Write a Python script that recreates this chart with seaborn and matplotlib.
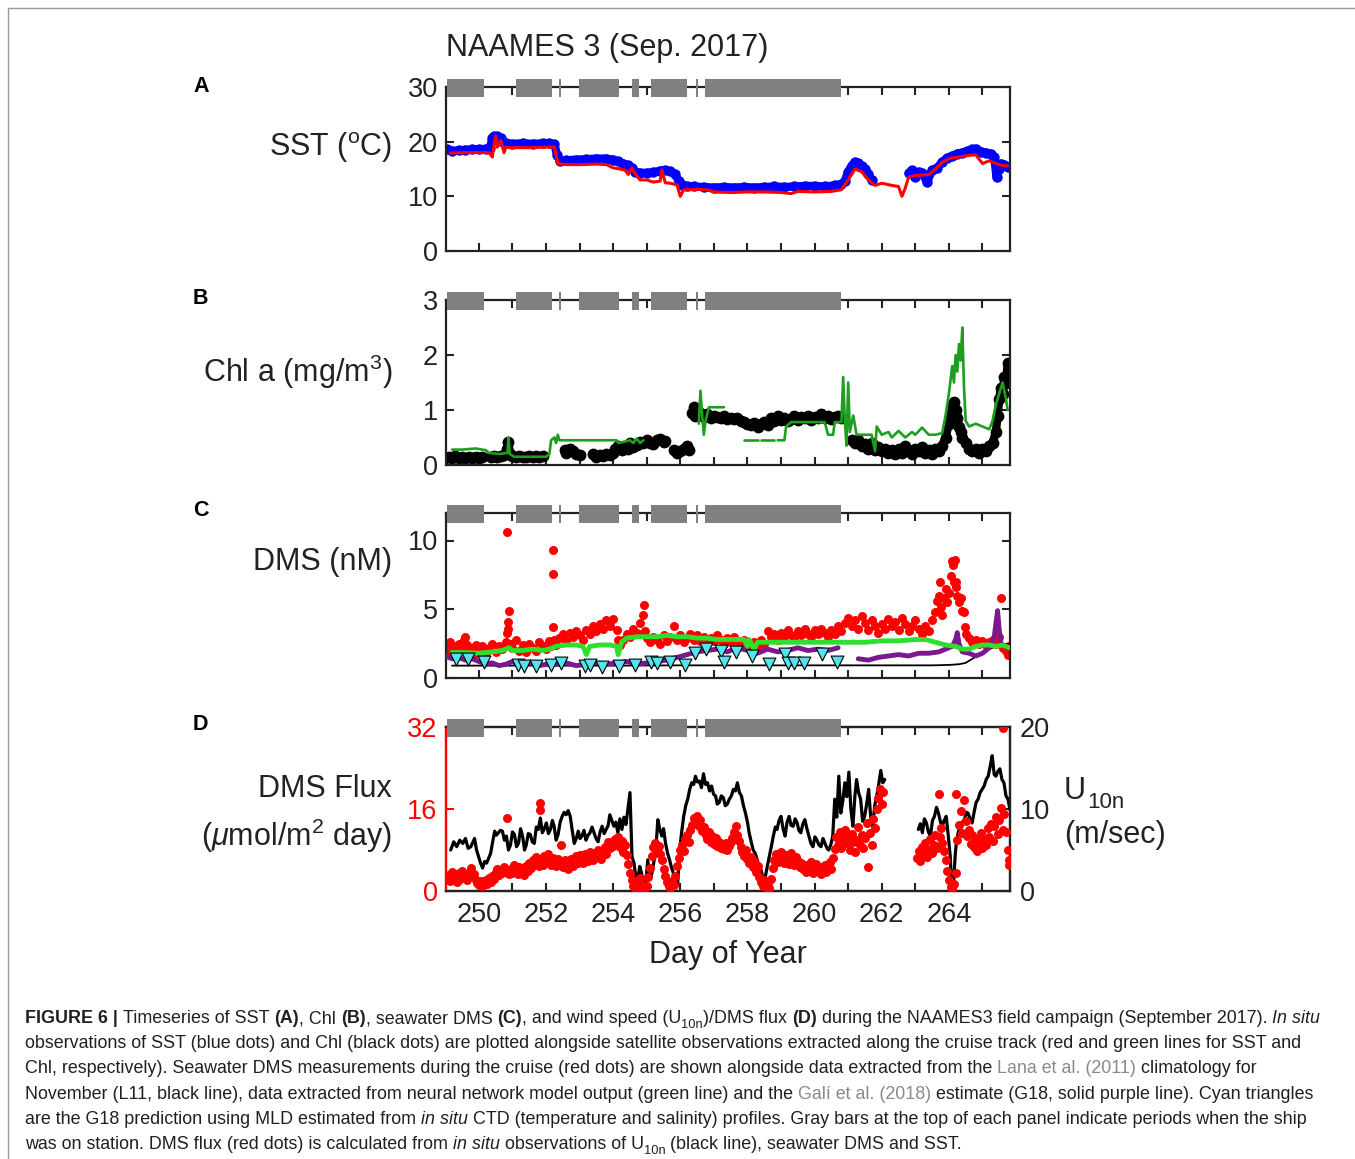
import numpy as np
import pandas as pd
import matplotlib
matplotlib.use("Agg")
import matplotlib.pyplot as plt
from matplotlib.lines import Line2D
import seaborn as sns

NA = np.nan

# ---------------- data (day of year, value) ----------------
STATION_START = [249.05, 251.10, 252.40, 252.98, 254.56, 255.12, 256.48, 256.73]
STATION_END = [250.15, 252.17, 252.46, 254.17, 254.77, 256.20, 256.54, 260.78]

SST_INSITU = [(249.05, 18.6), (249.2, 18.3), (249.4, 18.4), (249.6, 18.5), (249.8, 18.6), (250.0, 18.6),
              (250.2, 18.7), (250.33, 18.9), (250.4, 20.6), (250.45, 21.0), (250.55, 21.0), (250.65, 20.7),
              (250.72, 20.0), (250.8, 19.7), (251.0, 19.6), (251.3, 19.7), (251.6, 19.6), (251.9, 19.7),
              (252.1, 19.7), (252.25, 19.5), (252.33, 17.5), (252.42, 16.4), (252.6, 16.6), (252.9, 16.7),
              (253.2, 16.8), (253.5, 16.9), (253.8, 16.9), (254.0, 16.7), (254.15, 16.4), (254.3, 16.0),
              (254.45, 15.7), (254.55, 15.1), (254.65, 14.5), (254.8, 14.3), (255.0, 14.3), (255.2, 14.4),
              (255.4, 14.7), (255.55, 14.8), (255.7, 14.6), (255.85, 14.0), (255.95, 12.8), (256.05, 12.1),
              (256.2, 11.9), (256.4, 11.8), (256.7, 11.7), (257.0, 11.6), (257.3, 11.7), (257.6, 11.6),
              (257.9, 11.7), (258.2, 11.6), (258.5, 11.7), (258.8, 11.8), (259.1, 11.7), (259.4, 11.8),
              (259.7, 11.9), (260.0, 11.9), (260.3, 11.8), (260.6, 12.0), (260.8, 12.2), (260.9, 12.8),
              (261.0, 14.5), (261.1, 15.6), (261.2, 16.3), (261.3, 16.1), (261.4, 15.6), (261.5, 15.0),
              (261.6, 14.0), (261.7, 13.0), (262.2, NA), (262.8, 14.2), (262.9, 14.8), (263.0, 13.6),
              (263.1, 14.5), (263.2, 14.3), (263.35, 12.6), (263.5, 14.8), (263.65, 15.2), (263.8, 16.3),
              (263.95, 17.0), (264.1, 17.4), (264.25, 17.8), (264.4, 18.0), (264.55, 18.3), (264.7, 18.6),
              (264.8, 18.7), (264.95, 18.2), (265.1, 18.0), (265.25, 17.8), (265.35, 17.2), (265.42, 13.5),
              (265.48, 15.0), (265.55, 16.0), (265.65, 15.8), (265.75, 15.4)]

SST_SAT = [(249.15, 17.9), (249.5, 18.0), (250.0, 18.0), (250.3, 18.0), (250.4, 17.2), (250.45, 19.5),
           (250.5, 21.0), (250.55, 19.0), (250.65, 20.2), (250.75, 18.0), (250.8, 19.0), (251.0, 18.9),
           (251.5, 18.9), (252.0, 19.0), (252.25, 19.0), (252.35, 16.0), (252.6, 15.8), (253.0, 15.8),
           (253.5, 15.9), (253.8, 15.8), (254.0, 15.2), (254.2, 15.0), (254.35, 14.8), (254.45, 14.0),
           (254.55, 15.2), (254.65, 14.2), (254.8, 13.0), (255.0, 13.0), (255.2, 12.6), (255.4, 12.8),
           (255.45, 14.8), (255.55, 12.5), (255.7, 12.4), (255.9, 12.1), (256.0, 10.0), (256.1, 11.2),
           (256.3, 11.2), (256.5, 11.3), (256.8, 11.2), (257.0, 10.8), (257.5, 10.7), (258.0, 10.8),
           (258.5, 10.8), (259.0, 10.7), (259.3, 10.5), (259.5, 10.9), (260.0, 10.8), (260.5, 10.9),
           (260.8, 11.2), (261.0, 13.0), (261.2, 15.0), (261.4, 14.5), (261.6, 13.0), (261.8, 12.0),
           (262.0, 12.4), (262.3, 12.0), (262.5, 11.8), (262.6, 10.0), (262.7, 11.5), (262.8, 13.5),
           (263.0, 13.8), (263.2, 13.9), (263.4, 14.0), (263.6, 15.0), (263.8, 16.2), (264.0, 16.9),
           (264.3, 17.2), (264.6, 17.5), (264.8, 17.6), (265.0, 16.0), (265.2, 16.5), (265.4, 16.0),
           (265.6, 15.6), (265.75, 15.6)]

CHL_INSITU = [(249.0, 0.12), (249.1, 0.15), (249.2, 0.12), (249.3, 0.16), (249.4, 0.13), (249.5, 0.15),
              (249.6, 0.12), (249.7, 0.14), (249.8, 0.13), (249.9, 0.15), (250.0, 0.12), (250.1, 0.14),
              (250.2, NA), (250.35, 0.15), (250.45, 0.17), (250.55, 0.14), (250.65, 0.16), (250.75, 0.18),
              (250.85, 0.3), (250.88, 0.42), (250.92, 0.2), (251.0, 0.16), (251.1, 0.15), (251.2, 0.17),
              (251.3, 0.15), (251.4, 0.14), (251.5, 0.16), (251.6, 0.15), (251.7, 0.16), (251.8, 0.15),
              (251.9, 0.17), (252.2, NA), (252.55, 0.28), (252.6, 0.22), (252.7, 0.3), (252.8, 0.25),
              (252.9, 0.2), (253.0, 0.18), (253.2, NA), (253.4, 0.2), (253.5, 0.15), (253.6, 0.18),
              (253.7, 0.16), (253.8, 0.2), (253.9, 0.18), (254.0, 0.22), (254.05, 0.3), (254.15, 0.35),
              (254.25, 0.28), (254.35, 0.33), (254.45, 0.3), (254.5, 0.4), (254.6, 0.33), (254.7, 0.36),
              (254.8, 0.42), (254.9, 0.4), (255.0, 0.45), (255.1, 0.4), (255.2, 0.38), (255.3, 0.45),
              (255.4, 0.48), (255.5, 0.42), (255.55, 0.44), (255.7, NA), (255.8, 0.28), (255.9, 0.22),
              (256.0, 0.25), (256.1, 0.3), (256.2, 0.35), (256.25, 0.28), (256.3, NA), (256.35, 0.95),
              (256.4, 1.05), (256.45, 0.9), (256.5, 1.0), (256.6, 0.95), (256.7, 0.88), (256.8, 0.92),
              (256.9, 0.85), (257.0, 0.9), (257.1, 0.87), (257.2, 0.86), (257.3, 0.9), (257.4, 0.84),
              (257.5, 0.86), (257.6, 0.83), (257.7, 0.85), (257.8, 0.8), (257.9, 0.78), (258.0, 0.74),
              (258.1, 0.72), (258.2, 0.76), (258.3, 0.7), (258.4, 0.74), (258.5, 0.78), (258.6, 0.72),
              (258.7, 0.85), (258.8, 0.8), (258.9, 0.9), (259.0, 0.82), (259.1, 0.86), (259.2, 0.8),
              (259.3, 0.84), (259.4, 0.9), (259.5, 0.82), (259.6, 0.88), (259.7, 0.85), (259.8, 0.9),
              (259.9, 0.82), (260.0, 0.88), (260.1, 0.85), (260.2, 0.92), (260.3, 0.86), (260.4, 0.9),
              (260.5, 0.84), (260.6, 0.88), (260.7, 0.9), (260.8, 0.86), (260.95, NA), (261.1, 0.45),
              (261.2, 0.4), (261.3, 0.45), (261.4, 0.35), (261.5, 0.38), (261.6, 0.3), (261.7, 0.4),
              (261.8, 0.28), (261.9, 0.32), (262.0, 0.25), (262.1, 0.3), (262.2, 0.22), (262.3, 0.28),
              (262.4, 0.2), (262.5, 0.3), (262.6, 0.22), (262.7, 0.35), (262.8, 0.25), (262.9, 0.2),
              (263.0, 0.3), (263.1, 0.25), (263.2, 0.32), (263.3, 0.22), (263.4, 0.28), (263.5, 0.2),
              (263.6, 0.3), (263.7, 0.25), (263.8, 0.35), (263.9, 0.5), (264.0, 0.75), (264.05, 0.95),
              (264.1, 1.1), (264.15, 1.15), (264.2, 1.0), (264.25, 0.85), (264.3, 0.7), (264.35, 0.6),
              (264.4, 0.5), (264.5, 0.4), (264.6, 0.3), (264.7, 0.25), (264.8, 0.3), (264.9, 0.22),
              (265.0, 0.3), (265.1, 0.25), (265.2, 0.35), (265.3, 0.4), (265.4, 0.6), (265.45, 0.9),
              (265.5, 1.2), (265.55, 1.4), (265.6, 1.3), (265.65, 1.6), (265.7, 1.5), (265.75, 1.85),
              (265.8, 1.7)]

CHL_SAT = [(249.2, 0.28), (249.5, 0.28), (249.9, 0.3), (250.2, 0.27), (250.3, 0.22), (250.6, 0.2),
           (250.85, 0.22), (250.88, 0.5), (250.92, 0.2), (251.05, 0.15), (251.5, 0.15), (252.0, 0.15),
           (252.1, 0.2), (252.15, 0.45), (252.25, 0.5), (252.3, 0.4), (252.35, 0.55), (252.4, 0.45),
           (252.6, 0.45), (253.0, 0.45), (253.5, 0.45), (254.1, 0.45), (254.15, 0.4), (254.3, 0.42),
           (254.5, 0.45), (254.6, 0.4), (254.7, 0.48), (254.8, 0.4), (254.9, 0.45), (255.5, NA),
           (256.55, 0.75), (256.6, 1.35), (256.65, 0.9), (256.7, 0.55), (256.75, 0.8), (256.85, 1.05),
           (257.0, 1.05), (257.3, 1.05), (257.6, NA), (257.9, 0.45), (258.3, 0.45), (258.35, NA),
           (258.4, 0.45), (258.8, 0.45), (258.85, NA), (258.9, 0.45), (259.1, 0.45), (259.15, 0.7),
           (259.3, 0.78), (259.8, 0.78), (260.3, 0.78), (260.4, 0.55), (260.55, 0.55), (260.6, 0.78),
           (260.8, 0.78), (260.85, 1.6), (260.9, 0.8), (260.95, 0.35), (261.0, 1.5), (261.05, 0.6),
           (261.15, 0.9), (261.25, 0.55), (261.35, 0.55), (261.7, 0.55), (261.8, 0.25), (261.85, 0.7),
           (262.0, 0.55), (262.2, 0.6), (262.3, 0.5), (262.5, 0.62), (262.7, 0.5), (262.9, 0.6),
           (263.0, 0.55), (263.2, 0.68), (263.4, 0.55), (263.6, 0.55), (263.8, 0.58), (263.9, 0.9),
           (264.0, 1.3), (264.1, 1.8), (264.15, 1.5), (264.2, 2.0), (264.25, 1.7), (264.3, 2.2),
           (264.35, 1.9), (264.4, 2.5), (264.45, 1.4), (264.5, 0.8), (264.6, 0.7), (264.8, 0.75),
           (265.0, 0.7), (265.2, 0.65), (265.3, 0.8), (265.4, 1.1), (265.5, 1.3), (265.6, 1.5),
           (265.7, 1.2), (265.75, 1.0)]

DMS_INSITU = [(249.05, 2.2), (249.1, 1.8), (249.15, 2.6), (249.2, 2.0), (249.3, 2.3), (249.35, 1.9),
              (249.4, 2.5), (249.5, 2.1), (249.55, 2.8), (249.6, 3.0), (249.65, 2.4), (249.7, 2.0),
              (249.8, 2.2), (249.85, 1.7), (249.9, 2.4), (250.0, 2.0), (250.1, 2.3), (250.2, 1.8),
              (250.3, 2.2), (250.4, 2.5), (250.5, 1.9), (250.6, 2.3), (250.7, 2.1), (250.8, 2.6),
              (250.85, 3.3), (250.87, 3.6), (250.88, 4.1), (250.9, 4.9), (250.84, 10.6), (250.95, 2.5),
              (251.0, 2.2), (251.1, 2.8), (251.2, 2.0), (251.3, 2.4), (251.4, 1.9), (251.5, 2.5),
              (251.6, 2.2), (251.7, 2.0), (251.8, 2.6), (251.9, 2.3), (252.0, 2.1), (252.1, 2.7),
              (252.15, 2.3), (252.2, 9.3), (252.2, 7.6), (252.2, 3.7), (252.25, 2.8), (252.3, 2.4),
              (252.4, 2.9), (252.5, 3.2), (252.6, 2.7), (252.7, 3.3), (252.8, 3.0), (252.9, 3.4),
              (253.0, 3.1), (253.1, 2.8), (253.2, 3.5), (253.3, 3.2), (253.4, 3.8), (253.5, 3.4),
              (253.6, 3.9), (253.7, 3.6), (253.8, 4.2), (253.9, 3.8), (254.0, 4.3), (254.1, 3.5),
              (254.15, 2.8), (254.2, 2.4), (254.3, 2.8), (254.4, 3.2), (254.5, 3.0), (254.6, 3.6),
              (254.7, 3.3), (254.8, 4.0), (254.9, 4.6), (254.92, 5.3), (254.95, 3.4), (255.0, 2.9),
              (255.1, 2.6), (255.2, 3.0), (255.3, 2.8), (255.4, 2.5), (255.5, 3.1), (255.6, 2.7),
              (255.7, 3.0), (255.8, 3.8), (255.9, 2.8), (256.0, 3.1), (256.1, 2.6), (256.2, 2.9),
              (256.3, 3.2), (256.4, 2.8), (256.5, 3.1), (256.6, 2.7), (256.7, 3.0), (256.8, 2.6),
              (256.9, 2.9), (257.0, 2.7), (257.1, 3.1), (257.2, 2.8), (257.3, 2.5), (257.4, 2.9),
              (257.5, 2.6), (257.6, 3.0), (257.7, 2.7), (257.8, 2.4), (257.9, 2.8), (258.0, 2.5),
              (258.1, 2.3), (258.2, 2.6), (258.3, 2.3), (258.4, 2.8), (258.5, 2.5), (258.6, 3.4),
              (258.7, 3.0), (258.8, 3.2), (258.9, 2.8), (259.0, 3.3), (259.1, 3.0), (259.2, 3.5),
              (259.3, 3.1), (259.4, 2.9), (259.5, 3.4), (259.6, 3.1), (259.7, 3.6), (259.8, 3.2),
              (259.9, 3.0), (260.0, 3.5), (260.1, 3.2), (260.2, 3.6), (260.3, 3.3), (260.4, 3.0),
              (260.5, 3.5), (260.6, 3.2), (260.7, 3.8), (260.8, 3.4), (260.9, 4.0), (261.0, 4.4),
              (261.1, 3.8), (261.2, 4.2), (261.3, 3.6), (261.4, 4.5), (261.5, 4.0), (261.6, 3.5),
              (261.7, 4.2), (261.8, 3.8), (261.9, 3.3), (262.0, 3.9), (262.1, 3.6), (262.2, 4.3),
              (262.3, 3.8), (262.4, 4.1), (262.5, 3.5), (262.6, 4.4), (262.7, 3.9), (262.8, 3.4),
              (262.9, 3.8), (263.0, 4.2), (263.1, 3.6), (263.2, 3.2), (263.3, 3.8), (263.4, 3.4),
              (263.5, 4.2), (263.6, 4.8), (263.65, 5.6), (263.7, 6.0), (263.72, 7.0), (263.75, 5.2),
              (263.8, 4.6), (263.85, 5.8), (263.9, 6.5), (263.95, 5.5), (264.0, 6.2), (264.05, 7.4),
              (264.1, 8.5), (264.12, 8.2), (264.15, 7.0), (264.18, 8.6), (264.2, 6.6), (264.22, 7.0),
              (264.25, 6.0), (264.3, 5.5), (264.35, 5.8), (264.38, 4.9), (264.45, 4.8), (264.48, 3.7),
              (264.5, 3.2), (264.6, 2.9), (264.7, 2.6), (264.8, 2.8), (264.9, 2.5), (265.0, 2.7),
              (265.1, 2.4), (265.2, 2.6), (265.3, 2.8), (265.4, 2.5), (265.5, 3.0), (265.55, 5.8),
              (265.6, 2.2), (265.7, 2.0), (265.75, 1.7), (265.8, 2.3)]

DMS_NN = [(249.2, 1.85), (249.6, 1.85), (250.0, 1.8), (250.4, 1.9), (250.7, 2.0), (250.9, 2.2),
          (251.0, 2.0), (251.3, 2.0), (251.6, 2.1), (251.9, 2.0), (252.1, 2.1), (252.3, 2.3),
          (252.6, 2.4), (252.9, 2.4), (253.1, 2.3), (253.2, 1.7), (253.3, 2.3), (253.6, 2.4),
          (253.9, 2.4), (254.1, 2.3), (254.15, 1.7), (254.25, 2.6), (254.4, 2.9), (254.7, 3.0),
          (255.0, 3.0), (255.3, 3.0), (255.6, 3.1), (255.9, 3.0), (256.2, 3.0), (256.5, 2.9),
          (256.8, 2.9), (257.1, 2.8), (257.4, 2.8), (257.7, 2.8), (257.9, 2.8), (258.0, 2.3),
          (258.05, 2.8), (258.2, 2.1), (258.3, 2.6), (258.6, 2.6), (259.0, 2.6), (259.5, 2.6),
          (260.0, 2.6), (260.5, 2.6), (261.0, 2.6), (261.5, 2.6), (262.0, 2.7), (262.5, 2.7),
          (263.0, 2.8), (263.3, 2.8), (263.6, 2.6), (263.9, 2.4), (264.2, 2.3), (264.4, 2.1),
          (264.6, 2.1), (264.8, 2.3), (265.0, 2.4), (265.2, 2.4), (265.4, 2.3), (265.6, 2.4),
          (265.8, 2.2)]

DMS_G18 = [(249.0, 1.6), (249.2, 1.4), (249.4, 1.5), (249.6, 1.3), (249.8, 1.4), (250.0, 1.2),
           (250.2, 1.0), (250.4, 1.1), (250.6, 0.9), (250.8, 1.0), (251.0, 1.2), (251.2, 0.9),
           (251.4, 1.0), (251.6, 1.1), (251.8, 0.9), (252.0, 1.0), (252.3, 1.0), (252.6, 1.1),
           (252.9, 0.9), (253.2, 1.0), (253.5, 1.1), (253.8, 1.0), (254.1, 1.1), (254.4, 1.2),
           (254.7, 1.0), (255.0, 1.1), (255.3, 1.2), (255.6, 1.3), (255.9, 1.5), (256.2, 1.7),
           (256.5, 1.9), (256.8, 2.0), (257.1, 2.1), (257.4, 1.9), (257.7, 2.2), (258.0, 2.0),
           (258.3, 1.8), (258.6, 2.1), (258.9, 1.9), (259.2, 2.0), (259.5, 2.2), (259.8, 2.0),
           (260.1, 2.1), (260.4, 2.0), (260.7, 2.2), (260.85, NA), (261.3, 1.4), (261.6, 1.3),
           (261.9, 1.5), (262.2, 1.6), (262.5, 1.7), (262.8, 1.6), (263.1, 1.8), (263.4, 1.8),
           (263.7, 1.9), (263.9, 2.1), (264.1, 2.3), (264.2, 2.8), (264.25, 3.3), (264.3, 2.5),
           (264.4, 1.9), (264.6, 1.8), (264.8, 1.6), (265.0, 1.8), (265.2, 2.2), (265.35, 3.0),
           (265.45, 4.9), (265.5, 3.5), (265.55, 2.5), (265.7, 2.3), (265.8, 2.2)]

DMS_L11 = [(249.2, 0.9), (250.0, 0.9), (252.0, 0.9), (254.0, 0.9), (256.0, 0.92), (258.0, 0.92),
           (260.0, 0.92), (262.0, 0.92), (263.5, 0.92), (264.0, 0.95), (264.3, 1.0), (264.5, 1.1),
           (264.7, 1.4), (264.9, 1.7), (265.1, 2.0), (265.3, 2.2), (265.5, 2.4), (265.8, 2.5)]

DMS_G18_CTD = [(249.31, 1.40), (249.69, 1.35), (250.16, 1.15), (251.15, 0.91), (251.34, 0.86),
               (251.69, 0.86), (252.14, 0.98), (252.44, 1.11), (253.15, 0.86), (253.31, 0.91),
               (253.67, 0.81), (254.16, 0.86), (254.65, 0.98), (255.13, 1.15), (255.32, 1.11),
               (255.68, 1.15), (256.15, 0.91), (256.44, 1.84), (256.75, 2.14), (257.21, 1.99),
               (257.30, 1.15), (257.65, 1.89), (258.14, 1.60), (258.64, 1.03), (259.13, 1.72),
               (259.21, 1.06), (259.39, 1.06), (259.68, 1.06), (260.21, 1.77), (260.67, 1.15)]

WIND = [(249.16, 5.0), (249.25, 6.0), (249.34, 5.4), (249.43, 6.2), (249.52, 5.8), (249.6, 6.4),
        (249.68, 5.2), (249.76, 5.4), (249.87, 6.4), (249.93, 5.0), (249.99, 4.2), (250.05, 3.4),
        (250.11, 2.8), (250.17, 3.6), (250.23, 3.4), (250.29, 4.0), (250.35, 4.6), (250.41, 6.0),
        (250.47, 7.3), (250.52, 6.8), (250.58, 7.1), (250.64, 7.4), (250.7, 7.3), (250.76, 6.2),
        (250.82, 6.7), (250.88, 5.0), (250.94, 5.6), (251.0, 7.2), (251.06, 6.9), (251.12, 5.4),
        (251.18, 5.8), (251.24, 7.6), (251.3, 6.7), (251.36, 5.0), (251.41, 5.6), (251.47, 7.0),
        (251.53, 6.9), (251.59, 6.0), (251.65, 5.8), (251.71, 7.8), (251.77, 7.5), (251.83, 8.9),
        (251.89, 7.1), (251.95, 7.6), (252.01, 8.3), (252.07, 7.0), (252.13, 7.5), (252.19, 8.6),
        (252.24, 7.9), (252.3, 6.2), (252.36, 6.9), (252.42, 8.4), (252.48, 9.1), (252.54, 9.6),
        (252.6, 9.3), (252.66, 9.8), (252.72, 9.1), (252.78, 7.4), (252.84, 5.8), (252.9, 6.4),
        (252.96, 7.3), (253.01, 6.4), (253.07, 6.7), (253.13, 7.4), (253.19, 6.2), (253.25, 6.8),
        (253.31, 7.1), (253.37, 7.8), (253.43, 7.1), (253.49, 6.4), (253.55, 6.0), (253.61, 7.2),
        (253.67, 7.9), (253.73, 7.0), (253.79, 7.5), (253.85, 8.0), (253.9, 9.3), (253.96, 8.6),
        (254.02, 7.9), (254.08, 8.4), (254.14, 7.1), (254.2, 8.8), (254.26, 7.5), (254.32, 9.0),
        (254.38, 8.1), (254.44, 10.0), (254.5, 12.0), (254.53, 8.0), (254.56, 4.2), (254.62, 3.4),
        (254.67, 1.8), (254.73, 1.3), (254.79, 3.0), (254.85, 2.1), (254.91, 0.6), (254.97, 0.9),
        (255.03, 3.8), (255.09, 1.5), (255.15, 2.1), (255.21, 3.5), (255.27, 5.0), (255.33, 8.7),
        (255.39, 7.5), (255.45, 6.7), (255.5, 7.6), (255.56, 5.8), (255.62, 4.6), (255.68, 3.8),
        (255.74, 2.8), (255.8, 2.1), (255.86, 1.2), (255.92, 0.9), (255.98, 5.0), (256.04, 7.2),
        (256.1, 9.1), (256.16, 10.4), (256.22, 11.2), (256.28, 12.4), (256.34, 13.2), (256.4, 13.0),
        (256.45, 14.0), (256.51, 13.3), (256.57, 13.4), (256.63, 12.6), (256.69, 14.3), (256.75, 13.0),
        (256.81, 13.2), (256.87, 12.2), (256.93, 12.8), (256.99, 11.8), (257.05, 11.6), (257.1, 10.6),
        (257.16, 10.8), (257.22, 11.6), (257.28, 11.4), (257.34, 10.4), (257.4, 10.6), (257.46, 11.2),
        (257.52, 11.6), (257.58, 12.4), (257.64, 12.2), (257.7, 13.2), (257.76, 12.0), (257.82, 11.6),
        (257.88, 10.4), (257.94, 9.5), (258.0, 8.4), (258.05, 7.1), (258.11, 6.0), (258.17, 5.0),
        (258.23, 4.6), (258.29, 3.8), (258.35, 3.0), (258.41, 2.5), (258.47, 1.4), (258.53, 1.7),
        (258.59, 3.0), (258.65, 4.2), (258.71, 5.4), (258.77, 6.7), (258.83, 7.8), (258.88, 7.5),
        (258.94, 8.6), (259.0, 9.1), (259.06, 7.6), (259.12, 6.7), (259.18, 8.4), (259.24, 9.1),
        (259.3, 8.0), (259.36, 7.9), (259.42, 8.8), (259.48, 8.3), (259.53, 7.4), (259.59, 7.1),
        (259.65, 8.2), (259.71, 8.7), (259.77, 7.6), (259.83, 6.7), (259.89, 5.8), (259.95, 5.4),
        (260.01, 6.6), (260.07, 6.2), (260.13, 5.6), (260.19, 5.4), (260.25, 6.4), (260.31, 5.8),
        (260.37, 5.2), (260.42, 5.0), (260.48, 5.6), (260.54, 6.7), (260.6, 11.2), (260.66, 9.0),
        (260.72, 14.0), (260.78, 9.5), (260.84, 11.0), (260.9, 13.2), (260.96, 11.5), (261.02, 14.5),
        (261.08, 10.0), (261.14, 7.9), (261.2, 11.6), (261.25, 13.6), (261.31, 12.0), (261.37, 11.2),
        (261.43, 8.5), (261.49, 9.1), (261.55, 10.6), (261.61, 12.4), (261.67, 9.0), (261.73, 7.9),
        (261.79, 10.4), (261.85, 11.6), (261.91, 13.0), (261.97, 14.7), (262.03, 13.2), (262.09, 13.6),
        (262.5, NA),
        (263.09, 7.5), (263.15, 8.2), (263.21, 7.1), (263.27, 8.8), (263.33, 8.3), (263.39, 7.2),
        (263.45, 6.7), (263.51, 8.6), (263.57, 9.1), (263.63, 10.2), (263.69, 9.5), (263.75, 8.4),
        (263.8, 7.9), (263.86, 8.6), (263.92, 9.1), (263.98, 6.8), (264.04, 4.2), (264.07, 1.5),
        (264.1, 0.9), (264.13, 0.3), (264.16, 2.5), (264.19, 4.5), (264.22, 5.8), (264.28, 7.2),
        (264.34, 7.9), (264.4, 8.4), (264.46, 8.7), (264.52, 9.6), (264.57, 9.5), (264.63, 8.8),
        (264.69, 8.3), (264.75, 9.6), (264.81, 10.8), (264.87, 11.2), (264.93, 12.0), (264.99, 12.4),
        (265.05, 12.8), (265.11, 13.6), (265.17, 14.0), (265.23, 15.2), (265.29, 16.5), (265.35, 14.2),
        (265.4, 14.0), (265.46, 14.6), (265.52, 14.9), (265.58, 13.6), (265.64, 13.2), (265.7, 11.6),
        (265.76, 11.2), (265.82, 9.9)]

FLUX = [(249.1, 3.2), (249.15, 2.0), (249.2, 3.8), (249.25, 2.6), (249.3, 3.0), (249.35, 1.8),
        (249.4, 3.5), (249.45, 2.4), (249.5, 3.9), (249.55, 2.8), (249.6, 3.3), (249.65, 2.2),
        (249.7, 3.6), (249.75, 4.5), (249.8, 2.9), (249.85, 3.4), (249.9, 2.1), (249.95, 1.6),
        (250.0, 1.2), (250.05, 2.0), (250.1, 1.0), (250.15, 1.5), (250.2, 2.2), (250.25, 1.4),
        (250.3, 2.6), (250.35, 1.8), (250.4, 3.0), (250.45, 2.3), (250.5, 3.8), (250.55, 4.3),
        (250.6, 3.2), (250.65, 4.0), (250.7, 3.5), (250.75, 4.6), (250.8, 3.9), (250.85, 14.3),
        (250.9, 3.3), (250.95, 4.2), (251.0, 3.6), (251.05, 5.0), (251.1, 4.1), (251.15, 3.4),
        (251.2, 4.6), (251.25, 3.8), (251.3, 4.4), (251.35, 3.1), (251.4, 4.8), (251.45, 4.0),
        (251.5, 5.4), (251.55, 4.5), (251.6, 6.0), (251.65, 5.2), (251.7, 6.6), (251.75, 5.5),
        (251.8, 4.8), (251.82, 17.2), (251.83, 15.9), (251.85, 6.2), (251.9, 5.0), (251.95, 6.8),
        (252.0, 5.6), (252.05, 7.2), (252.1, 6.0), (252.15, 5.1), (252.2, 6.5), (252.25, 5.8),
        (252.3, 4.9), (252.35, 6.2), (252.4, 5.3), (252.45, 9.0), (252.5, 4.6), (252.55, 6.0),
        (252.6, 5.0), (252.65, 4.2), (252.7, 5.6), (252.75, 6.3), (252.8, 4.8), (252.85, 5.9),
        (252.9, 6.8), (252.95, 5.5), (253.0, 7.0), (253.05, 6.2), (253.1, 5.4), (253.15, 7.3),
        (253.2, 6.5), (253.25, 5.8), (253.3, 7.6), (253.35, 6.8), (253.4, 6.0), (253.45, 7.4),
        (253.5, 6.6), (253.55, 8.0), (253.6, 7.0), (253.65, 6.3), (253.7, 7.8), (253.75, 8.6),
        (253.8, 7.2), (253.85, 9.5), (253.9, 8.3), (253.95, 9.6), (254.0, 8.8), (254.05, 10.2),
        (254.1, 9.2), (254.15, 10.6), (254.2, 8.6), (254.25, 9.8), (254.3, 7.6), (254.35, 9.0),
        (254.4, 7.0), (254.45, 5.2), (254.5, 3.5), (254.55, 2.2), (254.6, 1.0), (254.65, 0.6),
        (254.7, 1.8), (254.75, 0.8), (254.8, 2.5), (254.85, 0.6), (254.9, 1.2), (254.95, 0.5),
        (255.0, 1.0), (255.05, 2.8), (255.1, 4.5), (255.15, 6.8), (255.2, 8.5), (255.25, 9.3),
        (255.3, 7.8), (255.35, 8.8), (255.4, 7.2), (255.45, 6.0), (255.5, 4.2), (255.55, 3.0),
        (255.6, 1.8), (255.65, 1.0), (255.7, 0.6), (255.75, 2.0), (255.8, 1.2), (255.85, 3.0),
        (255.9, 4.8), (255.95, 6.5), (256.0, 8.0), (256.05, 9.0), (256.1, 7.8), (256.15, 10.2),
        (256.2, 11.0), (256.25, 9.6), (256.3, 12.0), (256.35, 12.8), (256.4, 14.2), (256.45, 13.5),
        (256.5, 14.6), (256.55, 12.6), (256.6, 13.8), (256.65, 11.8), (256.7, 12.4), (256.75, 11.0),
        (256.8, 10.2), (256.85, 11.5), (256.9, 9.6), (256.95, 10.8), (257.0, 9.2), (257.05, 10.4),
        (257.1, 8.8), (257.15, 9.6), (257.2, 8.4), (257.25, 9.0), (257.3, 8.2), (257.35, 9.4),
        (257.4, 8.0), (257.45, 8.8), (257.5, 9.5), (257.55, 10.4), (257.6, 11.6), (257.65, 12.6),
        (257.7, 11.0), (257.75, 9.8), (257.8, 8.6), (257.85, 7.6), (257.9, 6.8), (257.95, 8.0),
        (258.0, 6.2), (258.05, 5.4), (258.1, 6.6), (258.15, 4.6), (258.2, 5.8), (258.25, 3.8),
        (258.3, 4.8), (258.35, 2.8), (258.4, 1.8), (258.45, 1.0), (258.5, 2.2), (258.55, 0.8),
        (258.6, 1.5), (258.65, 0.6), (258.7, 2.4), (258.75, 4.5), (258.8, 6.0), (258.85, 7.2),
        (258.9, 5.6), (258.95, 6.8), (259.0, 7.6), (259.05, 6.2), (259.1, 5.4), (259.15, 7.0),
        (259.2, 6.4), (259.25, 5.2), (259.3, 7.4), (259.35, 6.0), (259.4, 5.0), (259.45, 6.6),
        (259.5, 5.8), (259.55, 4.6), (259.6, 5.4), (259.65, 4.2), (259.7, 5.0), (259.75, 3.8),
        (259.8, 4.8), (259.85, 4.0), (259.9, 5.6), (259.95, 3.6), (260.0, 4.4), (260.05, 5.2),
        (260.1, 3.9), (260.15, 4.7), (260.2, 3.4), (260.25, 4.3), (260.3, 5.0), (260.35, 3.8),
        (260.4, 4.6), (260.45, 5.6), (260.5, 4.2), (260.55, 6.5), (260.6, 8.2), (260.65, 10.5),
        (260.7, 9.0), (260.75, 11.6), (260.8, 8.4), (260.85, 10.2), (260.9, 12.0), (260.95, 9.4),
        (261.0, 10.8), (261.05, 8.0), (261.1, 11.2), (261.15, 9.6), (261.2, 7.6), (261.25, 10.0),
        (261.3, 12.4), (261.35, 9.0), (261.4, 11.0), (261.45, 8.4), (261.5, 10.4), (261.55, 13.2),
        (261.6, 4.6), (261.65, 11.4), (261.7, 9.0), (261.75, 14.0), (261.8, 12.2), (261.85, 16.0),
        (261.9, 18.2), (261.95, 20.0), (262.0, 17.0), (262.05, 19.4), (263.05, 6.5), (263.1, 7.8),
        (263.15, 5.8), (263.2, 8.6), (263.25, 7.0), (263.3, 9.4), (263.35, 6.6), (263.4, 8.0),
        (263.45, 10.2), (263.5, 7.4), (263.55, 9.0), (263.6, 11.0), (263.65, 8.4), (263.7, 19.0),
        (263.72, 10.6), (263.75, 12.2), (263.8, 9.4), (263.85, 7.8), (263.9, 6.0), (263.95, 4.0),
        (264.0, 2.2), (264.05, 0.8), (264.1, 0.3), (264.15, 1.4), (264.2, 3.5), (264.22, 19.0),
        (264.25, 10.0), (264.3, 12.8), (264.35, 15.6), (264.4, 11.4), (264.45, 17.8), (264.5, 13.6),
        (264.55, 10.8), (264.6, 12.0), (264.65, 9.2), (264.7, 11.0), (264.75, 8.6), (264.8, 10.2),
        (264.85, 7.8), (264.9, 9.6), (264.95, 11.4), (265.0, 8.4), (265.05, 10.0), (265.1, 9.0),
        (265.15, 12.2), (265.2, 10.6), (265.25, 13.0), (265.3, 9.8), (265.35, 12.6), (265.4, 14.4),
        (265.45, 11.2), (265.5, 13.8), (265.55, 16.2), (265.6, 12.0), (265.62, 31.8), (265.65, 15.0),
        (265.7, 11.6), (265.75, 8.0), (265.78, 6.0), (265.8, 5.0)]

PANEL_LETTERS = ["A", "B", "C", "D"]
X_TICKS_MAJOR = [250, 252, 254, 256, 258, 260, 262, 264]
X_TICKS_MINOR = [251, 253, 255, 257, 259, 261, 263, 265]

CAPTION = [
    [("FIGURE 6 |", "b"), (" Timeseries of SST ", "n"), ("(A)", "b"), (", Chl ", "n"), ("(B)", "b"),
     (", seawater DMS ", "n"), ("(C)", "b"), (", and wind speed (U", "n"), ("10n", "s"),
     (")/DMS flux ", "n"), ("(D)", "b"), (" during the NAAMES3 field campaign (September 2017). ", "n"),
     ("In situ", "i")],
    [("observations of SST (blue dots) and Chl (black dots) are plotted alongside satellite observations "
      "extracted along the cruise track (red and green lines for SST and", "n")],
    [("Chl, respectively). Seawater DMS measurements during the cruise (red dots) are shown alongside data "
      "extracted from the ", "n"), ("Lana et al. (2011)", "g"), (" climatology for", "n")],
    [("November (L11, black line), data extracted from neural network model output (green line) and the ", "n"),
     ("Galí et al. (2018)", "g"), (" estimate (G18, solid purple line). Cyan triangles", "n")],
    [("are the G18 prediction using MLD estimated from ", "n"), ("in situ", "i"),
     (" CTD (temperature and salinity) profiles. Gray bars at the top of each panel indicate periods when the ship", "n")],
    [("was on station. DMS flux (red dots) is calculated from ", "n"), ("in situ", "i"),
     (" observations of U", "n"), ("10n", "s"), (" (black line), seawater DMS and SST.", "n")],
]


def frame(pairs):
    arr = np.array(pairs, dtype=float)
    x, y = arr[:, 0], arr[:, 1]
    seg = np.cumsum(np.isnan(y))
    m = ~np.isnan(y)
    return pd.DataFrame({"day": x[m], "val": y[m], "seg": seg[m]})


# ---------------- style ----------------
sns.set_theme(style="white")
plt.rcParams["font.family"] = ["Liberation Sans", "DejaVu Sans"]
plt.rcParams["mathtext.fontset"] = "custom"
plt.rcParams["mathtext.rm"] = "Liberation Sans"
plt.rcParams["mathtext.it"] = "Liberation Sans:italic"
plt.rcParams["mathtext.bf"] = "Liberation Sans:bold"
plt.rcParams["mathtext.sf"] = "Liberation Sans"

W, H = 1355, 1159
fig = plt.figure(figsize=(W / 100, H / 100), dpi=100)
fig.patch.set_facecolor("white")


def fx(x):
    return x / W


def fy(y):
    return 1 - y / H


AX_L, AX_R = 446, 1010
TXT = "#222222"
TICK_FS = 19.5
LAB_FS = 22


def make_ax(top, bottom):
    return fig.add_axes([fx(AX_L), fy(bottom), (AX_R - AX_L) / W, (bottom - top) / H])


def style_ax(ax, ylim, yticks, show_x=False):
    ax.set_facecolor("white")
    ax.set_xlim(249.02, 265.82)
    ax.set_ylim(*ylim)
    ax.set_yticks(yticks)
    ax.set_xticks(X_TICKS_MAJOR)
    ax.set_xticks(X_TICKS_MINOR, minor=True)
    ax.tick_params(which="both", direction="in", length=6, width=1.5, top=True, right=True,
                   bottom=True, left=True, colors=TXT, labelsize=TICK_FS)
    ax.tick_params(axis="y", pad=6)
    ax.tick_params(axis="x", pad=8)
    if not show_x:
        ax.tick_params(labelbottom=False)
    for sp in ax.spines.values():
        sp.set_visible(True)
        sp.set_linewidth(1.6)
        sp.set_color(TXT)
    ax.set_xlabel("")
    ax.set_ylabel("")
    ax.grid(False)


def station_bars(ax):
    spans = [(s, e - s) for s, e in zip(STATION_START, STATION_END)]
    ax.broken_barh(spans, (0.942, 0.104), transform=ax.get_xaxis_transform(),
                   facecolors="#808080", edgecolors="none", clip_on=False, zorder=20)


def seg_line(ax, pairs, **kw):
    df = frame(pairs)
    sns.lineplot(data=df, x="day", y="val", units="seg", estimator=None, sort=False,
                 legend=False, ax=ax, **kw)


# ---------------- Panel A ----------------
axA = make_ax(87, 251)
seg_line(axA, SST_INSITU, color="#0000ff", lw=6, marker="o", markersize=7.5, markeredgewidth=0, zorder=2)
seg_line(axA, SST_SAT, color="#ff0000", lw=2.2, zorder=3)
style_ax(axA, (0, 30), [0, 10, 20, 30])
station_bars(axA)

# ---------------- Panel B ----------------
axB = make_ax(300, 465)
seg_line(axB, CHL_INSITU, color="black", lw=6, marker="o", markersize=8.5, markeredgewidth=0, zorder=2)
seg_line(axB, CHL_SAT, color="#1e9e1e", lw=1.9, zorder=3)
style_ax(axB, (0, 3), [0, 1, 2, 3])
station_bars(axB)

# ---------------- Panel C ----------------
axC = make_ax(513, 678)
dms = frame(DMS_INSITU)
sns.scatterplot(data=dms, x="day", y="val", color="#ff0000", s=42, linewidth=0, legend=False, ax=axC, zorder=2)
seg_line(axC, DMS_L11, color="black", lw=1.3, zorder=3)
seg_line(axC, DMS_G18, color="#7b1890", lw=3.5, zorder=4)
seg_line(axC, DMS_NN, color="#2ee02e", lw=3.5, zorder=5)
ctd = frame(DMS_G18_CTD)
sns.scatterplot(data=ctd, x="day", y="val", marker="v", color="#55e3ee", edgecolor="black",
                linewidth=0.8, s=85, legend=False, ax=axC, zorder=6)
style_ax(axC, (0, 12), [0, 5, 10])
station_bars(axC)

# ---------------- Panel D ----------------
axD = make_ax(727, 891)
axW = axD.twinx()
flux = frame(FLUX)
sns.scatterplot(data=flux, x="day", y="val", color="#ff0000", s=42, linewidth=0, legend=False, ax=axD, zorder=3)
seg_line(axW, WIND, color="black", lw=2.3, zorder=2)
style_ax(axD, (0, 32), [0, 16, 32], show_x=True)
axD.tick_params(right=False, which="both")
axD.tick_params(axis="y", colors="#ff0000")
axD.spines["left"].set_color("#ff0000")
axW.set_ylim(0, 20)
axW.set_yticks([0, 10, 20])
axW.tick_params(axis="y", direction="in", length=6, width=1.5, right=True, left=False,
                colors=TXT, labelsize=TICK_FS, pad=7)
axW.set_ylabel("")
for name, sp in axW.spines.items():
    sp.set_linewidth(1.6)
    sp.set_color("#ff0000" if name == "left" else TXT)
axD.set_zorder(axW.get_zorder() + 1)
axD.patch.set_visible(False)
axW.patch.set_visible(True)
axW.patch.set_facecolor("white")
station_bars(axD)

# ---------------- texts ----------------
fig.text(fx(607), fy(48), "NAAMES 3 (Sep. 2017)", fontsize=LAB_FS, ha="center", va="center", color=TXT)
for letter, yy in zip(PANEL_LETTERS, [87, 298, 510, 724]):
    fig.text(fx(193), fy(yy), letter, fontsize=15.5, fontweight="bold", ha="left", va="center", color="black")
fig.text(fx(392), fy(148), r"SST ($^{\mathrm{o}}$C)", fontsize=LAB_FS, ha="right", va="center", color=TXT)
fig.text(fx(392), fy(372), r"Chl a (mg/m$^{3}$)", fontsize=LAB_FS, ha="right", va="center", color=TXT)
fig.text(fx(392), fy(562), "DMS (nM)", fontsize=LAB_FS, ha="right", va="center", color=TXT)
fig.text(fx(392), fy(789), "DMS Flux", fontsize=LAB_FS, ha="right", va="center", color=TXT)
fig.text(fx(392), fy(836), r"($\mu$mol/m$^{2}$ day)", fontsize=LAB_FS, ha="right", va="center", color=TXT)
u_txt = fig.text(fx(1064), fy(799), "U", fontsize=LAB_FS, ha="left", va="baseline", color=TXT)
u_right = u_txt.get_window_extent(fig.canvas.get_renderer()).x1
fig.text(fx(u_right + 1), fy(808), "10n", fontsize=16, ha="left", va="baseline", color=TXT)
fig.text(fx(1064), fy(843), "(m/sec)", fontsize=LAB_FS, ha="left", va="baseline", color=TXT)
fig.text(fx(728), fy(955), "Day of Year", fontsize=LAB_FS, ha="center", va="center", color=TXT)

# figure frame
fig.add_artist(Line2D([fx(8), fx(8)], [fy(8), 0], transform=fig.transFigure, color="#9a9a9a", lw=1.0))
fig.add_artist(Line2D([fx(8), 1], [fy(8), fy(8)], transform=fig.transFigure, color="#9a9a9a", lw=1.0))

# ---------------- caption ----------------
renderer = fig.canvas.get_renderer()
CAP_COLOR = "#231f20"
GRAY_LINK = "#8a8a8a"


def run_props(kind, fs):
    p = dict(fontsize=fs, color=CAP_COLOR, fontweight="normal", fontstyle="normal")
    dy = 0.0
    if kind == "b":
        p["fontweight"] = "bold"
    elif kind == "i":
        p["fontstyle"] = "italic"
    elif kind == "g":
        p["color"] = GRAY_LINK
    elif kind == "s":
        p["fontsize"] = fs * 0.72
        dy = fs * 0.28 * 100 / 72
    return p, dy


def measure(s, **p):
    t = fig.text(0, 0, s, **p)
    w = t.get_window_extent(renderer).width
    t.remove()
    return w


def draw_runs(runs, x0, ybase, fs, draw=True):
    sp = measure("a a", fontsize=fs) - measure("aa", fontsize=fs)
    x = x0
    for s, kind in runs:
        lead = len(s) - len(s.lstrip(" "))
        trail = len(s) - len(s.rstrip(" "))
        core = s.strip(" ")
        x += lead * sp
        if core:
            p, dy = run_props(kind, fs)
            if draw:
                t = fig.text(fx(x), fy(ybase + dy), core, ha="left", va="baseline", **p)
                w = t.get_window_extent(renderer).width
            else:
                w = measure(core, **p)
            x += w
        x += trail * sp
    return x


CAP_X0 = 25
w12 = draw_runs(CAPTION[1], 0, 0, 12, draw=False)
cap_fs = 12 * 1283 / w12
for i, runs in enumerate(CAPTION):
    draw_runs(runs, CAP_X0, 1023 + i * 25.2, cap_fs)

fig.savefig("out.png", dpi=100, facecolor="white")
